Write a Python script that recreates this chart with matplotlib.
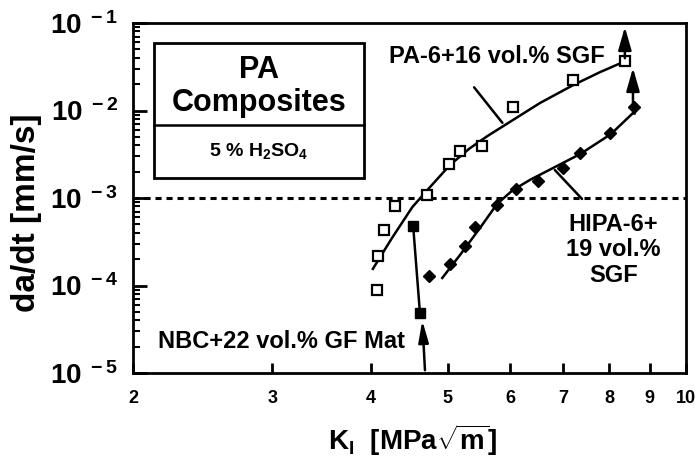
import math
import matplotlib
matplotlib.use('Agg')
import matplotlib.pyplot as plt
from matplotlib.patches import Rectangle
from matplotlib.lines import Line2D
from matplotlib.ticker import FixedLocator, NullLocator, LogLocator, FuncFormatter

plt.rcParams['font.family'] = 'Liberation Sans'
plt.rcParams['font.weight'] = 'bold'
plt.rcParams['axes.labelweight'] = 'bold'
plt.rcParams['mathtext.fontset'] = 'custom'
plt.rcParams['mathtext.rm'] = 'Liberation Sans:bold'
plt.rcParams['mathtext.it'] = 'Liberation Sans:bold'
plt.rcParams['mathtext.bf'] = 'Liberation Sans:bold'

# PA-6 + 16 vol.% SGF (open squares)
pa_k = [4.07, 4.08, 4.15, 4.29, 4.71, 5.02, 5.18, 5.52, 6.04, 7.20, 8.37]
pa_v = [8.9e-5, 2.17e-4, 4.31e-4, 8.1e-4, 1.08e-3, 2.45e-3, 3.44e-3, 3.93e-3, 1.10e-2, 2.23e-2, 3.68e-2]
pa_fit_k = [4.02, 4.25, 4.51, 4.75, 5.03, 5.33, 5.61, 5.87, 6.54, 7.20, 7.79, 8.33]
pa_fit_v = [1.55e-4, 3.49e-4, 7.89e-4, 1.34e-3, 2.38e-3, 3.7e-3, 5.1e-3, 6.6e-3, 1.22e-2, 1.95e-2, 2.75e-2, 3.58e-2]

# HIPA-6 + 19 vol.% SGF (filled diamonds)
hipa_k = [4.73, 5.03, 5.26, 5.41, 5.77, 6.10, 6.50, 6.99, 7.35, 8.02, 8.60]
hipa_v = [1.28e-4, 1.76e-4, 2.83e-4, 4.66e-4, 8.32e-4, 1.27e-3, 1.56e-3, 2.20e-3, 3.27e-3, 5.53e-3, 1.10e-2]
hipa_fit_k = [4.92, 5.18, 5.49, 5.77, 6.04, 6.35, 6.79, 7.35, 8.04, 8.57]
hipa_fit_v = [1.22e-4, 2.23e-4, 4.54e-4, 8.54e-4, 1.23e-3, 1.61e-3, 2.20e-3, 3.18e-3, 5.39e-3, 9.36e-3]

# NBC + 22 vol.% GF Mat (filled squares)
nbc_k = [4.52, 4.61]
nbc_v = [4.79e-4, 4.85e-5]

threshold = 1e-3
xticks = [2, 3, 4, 5, 6, 7, 8, 9, 10]

fig = plt.figure(figsize=(6.99, 4.57), dpi=100)
ax = fig.add_axes([133 / 699, 84 / 457, 553 / 699, 350 / 457])
ax.set_xscale('log')
ax.set_yscale('log')
ax.set_xlim(2, 10)
ax.set_ylim(1e-5, 1e-1)

ax.axhline(threshold, color='black', lw=2.2, ls=(0, (2, 1.6)))

ax.plot(pa_fit_k, pa_fit_v, color='black', lw=1.8)
ax.plot(pa_k, pa_v, ls='none', marker='s', ms=6.5, mfc='white', mec='black', mew=1.6)

ax.plot(hipa_fit_k, hipa_fit_v, color='black', lw=1.8)
ax.plot(hipa_k, hipa_v, ls='none', marker='D', ms=6.5, color='black')

ax.plot(nbc_k, nbc_v, color='black', lw=1.8)
ax.plot(nbc_k, nbc_v, ls='none', marker='s', ms=7, color='black')

# arrows (beyond measuring range)
ax.annotate('', xy=(pa_k[-1], 0.097), xytext=(pa_k[-1], pa_v[-1]),
            arrowprops=dict(arrowstyle='-|>,head_length=1.4,head_width=0.4', color='black', lw=1.8))
ax.plot([hipa_fit_k[-1], hipa_k[-1]], [hipa_fit_v[-1], hipa_fit_v[-1]], color='black', lw=1.8)
ax.annotate('', xy=(hipa_fit_k[-1], 3.3e-2), xytext=(hipa_fit_k[-1], hipa_fit_v[-1]),
            arrowprops=dict(arrowstyle='-|>,head_length=1.4,head_width=0.4', color='black', lw=1.8))
ax.annotate('', xy=(4.64, 4.3e-5), xytext=(4.68, 1e-5),
            arrowprops=dict(arrowstyle='-|>,head_length=1.3,head_width=0.3', color='black', lw=1.8))

# leader lines and labels
ax.annotate('', xy=(5.89, 6.83e-3), xytext=(5.37, 1.95e-2),
            arrowprops=dict(arrowstyle='-', color='black', lw=1.8))
ax.annotate('', xy=(6.79, 2.20e-3), xytext=(7.43, 9.24e-4),
            arrowprops=dict(arrowstyle='-', color='black', lw=1.8))
ax.text(5.77, 4.09e-2, 'PA-6+16 vol.% SGF', fontsize=17, ha='center', va='center')
ax.text(8.09, 2.55e-4, 'HIPA-6+\n19 vol.%\nSGF', fontsize=17, ha='center', va='center',
        linespacing=1.15)
ax.text(3.08, 2.32e-5, 'NBC+22 vol.% GF Mat', fontsize=17, ha='center', va='center')

# box with title
ax.add_patch(Rectangle((0.038, 0.557), 0.38, 0.386, transform=ax.transAxes,
                       fill=False, lw=2, ec='black'))
ax.add_line(Line2D([0.038, 0.418], [0.709, 0.709], transform=ax.transAxes, color='black', lw=1.8))
ax.text(0.228, 0.866, 'PA', transform=ax.transAxes, fontsize=22, ha='center', va='center')
ax.text(0.228, 0.772, 'Composites', transform=ax.transAxes, fontsize=22, ha='center', va='center')
ax.text(0.228, 0.635, r'5 % H$_{2}$SO$_{4}$', transform=ax.transAxes, fontsize=14,
        ha='center', va='center')

# axes styling
for s in ax.spines.values():
    s.set_linewidth(2)
ax.xaxis.set_major_locator(FixedLocator(xticks))
ax.xaxis.set_minor_locator(NullLocator())
ax.xaxis.set_major_formatter(FuncFormatter(lambda v, p: '%d' % round(v)))
ax.yaxis.set_major_locator(LogLocator(base=10, numticks=10))
ax.yaxis.set_minor_locator(LogLocator(base=10, subs=range(2, 10), numticks=20))
ax.yaxis.set_major_formatter(FuncFormatter(lambda v, p: r'$10^{\ %d}$' % round(math.log10(v))))
ax.tick_params(axis='x', which='major', direction='in', length=7, width=2,
               labelsize=13, pad=12, top=False)
ax.tick_params(axis='y', which='major', direction='in', length=10, width=2,
               labelsize=20, pad=11, right=False)
ax.tick_params(axis='y', which='minor', direction='in', length=5, width=1.5, right=False)

ax.set_xlabel(r'K$_{\mathrm{I}}$  [MPa$\sqrt{\mathrm{m}}$]', fontsize=20)
ax.xaxis.set_label_coords(0.506, -0.14)
ax.set_ylabel('da/dt [mm/s]', fontsize=24)
ax.yaxis.set_label_coords(-0.165, 0.457)

fig.savefig('out.png', dpi=100)
